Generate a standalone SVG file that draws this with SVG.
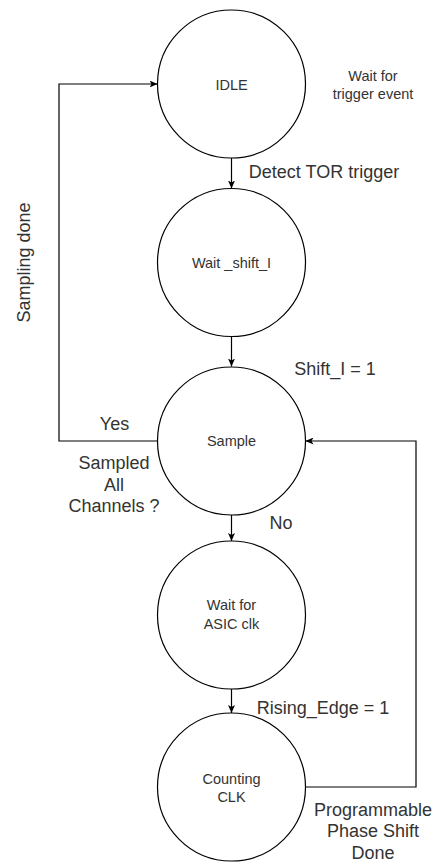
<svg xmlns="http://www.w3.org/2000/svg" width="435" height="862" viewBox="0 0 435 862">
  <style>
    .state { fill: #ffffff; stroke: #000000; stroke-width: 1.2; }
    .node-label { font-family: "Liberation Sans", Arial, sans-serif; font-size: 14.5px; fill: #333333; text-anchor: middle; dominant-baseline: central; }
    .edge-label { font-family: "Liberation Sans", Arial, sans-serif; font-size: 18px; fill: #333333; text-anchor: middle; dominant-baseline: central; }
    .note { font-family: "Liberation Sans", Arial, sans-serif; font-size: 14.5px; fill: #333333; text-anchor: middle; dominant-baseline: central; }
    .wire { fill: none; stroke: #000000; stroke-width: 1.2; marker-end: url(#arrow); }
  </style>
  <defs>
    <marker id="arrow" viewBox="0 0 8 7" refX="8" refY="3.5" markerWidth="8" markerHeight="7" markerUnits="userSpaceOnUse" orient="auto">
      <path d="M0,0 L8,3.5 L0,7 L2,3.5 Z" fill="#000000"/>
    </marker>
  </defs>
  <rect width="435" height="862" fill="#ffffff"/>

  <!-- transitions -->
  <g id="connectors">
    <path class="wire" d="M231.5,158 L231.5,188.5"/>
    <path class="wire" d="M231.5,337 L231.5,366.5"/>
    <path class="wire" d="M231.5,515 L231.5,541"/>
    <path class="wire" d="M231.5,689 L231.5,713"/>
    <path class="wire" d="M157.5,441 L59,441 L59,84 L157.5,84"/>
    <path class="wire" d="M305.5,787 L416,787 L416,441 L305.5,441"/>

    <text class="edge-label" x="324" y="171.5">Detect TOR trigger</text>
    <text class="edge-label" x="335" y="368.5">Shift_I = 1</text>
    <text class="edge-label" transform="translate(24,262.5) rotate(-90)">Sampling done</text>
    <text class="edge-label" x="114.5" y="423.5">Yes</text>
    <text class="edge-label" x="114" y="462.5">Sampled</text>
    <text class="edge-label" x="114" y="484.5">All</text>
    <text class="edge-label" x="114" y="506">Channels ?</text>
    <text class="edge-label" x="281" y="522.5">No</text>
    <text class="edge-label" x="323" y="707.5">Rising_Edge = 1</text>
    <text class="edge-label" x="373" y="809.5">Programmable</text>
    <text class="edge-label" x="373" y="831">Phase Shift</text>
    <text class="edge-label" x="373" y="852.5">Done</text>
  </g>

  <!-- states -->
  <g id="idle">
    <circle class="state" cx="231.5" cy="84" r="74"/>
    <text class="node-label" x="231.5" y="84.5">IDLE</text>
  </g>
  <g id="idle-note">
    <text class="note" x="373" y="76">Wait for</text>
    <text class="note" x="373" y="94">trigger event</text>
  </g>
  <g id="wait-shift">
    <circle class="state" cx="231.5" cy="262.5" r="74"/>
    <text class="node-label" x="231.5" y="263">Wait _shift_I</text>
  </g>
  <g id="sample">
    <circle class="state" cx="231.5" cy="441" r="74"/>
    <text class="node-label" x="231.5" y="441">Sample</text>
  </g>
  <g id="wait-asic-clk">
    <circle class="state" cx="231.5" cy="615" r="74"/>
    <text class="node-label" x="231.5" y="605">Wait for</text>
    <text class="node-label" x="231.5" y="623.5">ASIC clk</text>
  </g>
  <g id="counting-clk">
    <circle class="state" cx="231.5" cy="787" r="74"/>
    <text class="node-label" x="231.5" y="778.5">Counting</text>
    <text class="node-label" x="231.5" y="797">CLK</text>
  </g>
</svg>
